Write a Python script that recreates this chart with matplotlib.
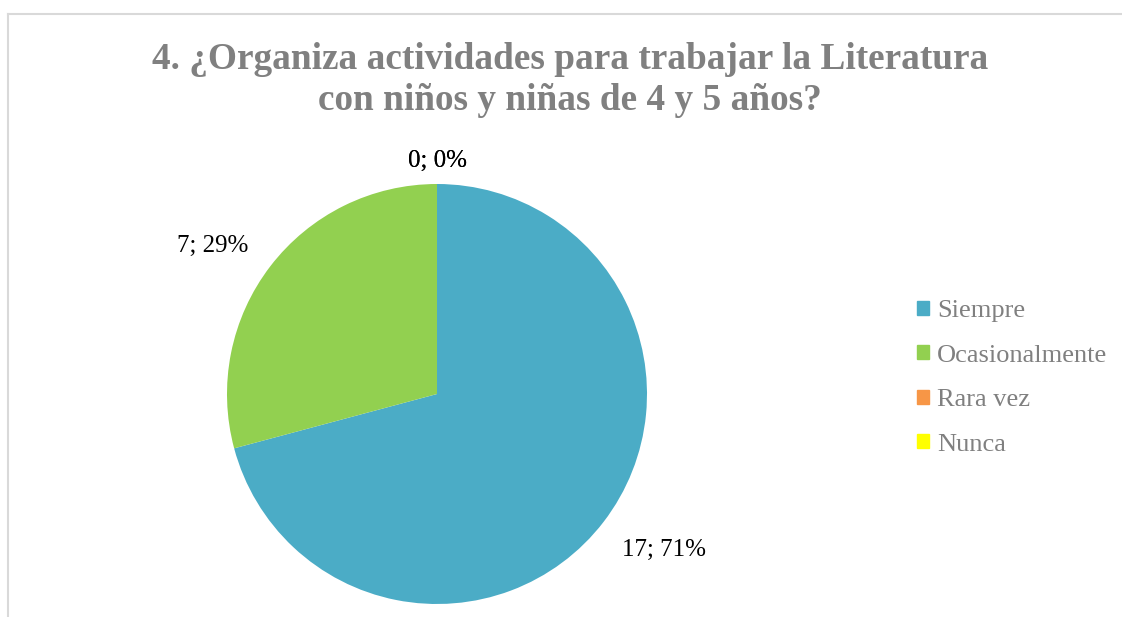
import matplotlib.pyplot as plt
import numpy as np

plt.rcParams['font.family'] = ['Liberation Serif', 'DejaVu Serif']

# Data
categories = ['Siempre', 'Ocasionalmente', 'Rara vez', 'Nunca']
counts = [17, 7, 0, 0]
colors = ['#4BACC6', '#92D050', '#F79646', '#FFFF00']
title = '4. ¿Organiza actividades para trabajar la Literatura\ncon niños y niñas de 4 y 5 años?'

W, H = 1122, 617
fig = plt.figure(figsize=(W / 100, H / 100), dpi=100)

# chart border (only top and left visible in the reference)
fig.add_artist(plt.Line2D([8 / W, 8 / W], [0, 1 - 14 / H], color='#D9D9D9', lw=1.5))
fig.add_artist(plt.Line2D([8 / W, 1], [1 - 14 / H, 1 - 14 / H], color='#D9D9D9', lw=1.5))

# pie axes: centre (437, 394), radius 210 px
cx, cy, r = 437, 394, 210
ax = fig.add_axes([(cx - r) / W, (H - cy - r) / H, 2 * r / W, 2 * r / H])
wedges, _ = ax.pie(counts, colors=colors, startangle=90, counterclock=False,
                   radius=1, wedgeprops=dict(linewidth=0))
ax.set_xlim(-1, 1)
ax.set_ylim(-1, 1)
ax.set_aspect('equal')
ax.axis('off')

# label placement roughly like Excel's best-fit
total = sum(counts)
offsets = [(1.31, 3), (1.28, 4), (1.11, 0), (1.11, 0)]
for w, c, (d, da) in zip(wedges, counts, offsets):
    ang = np.deg2rad((w.theta1 + w.theta2) / 2 + da)
    ax.text(d * np.cos(ang), d * np.sin(ang), f'{c}; {round(100 * c / total)}%',
            ha='center', va='center', fontsize=18, color='black', clip_on=False)

fig.text(570 / W, 1 - 80 / H, title, ha='center', va='center', fontsize=26.8,
         fontweight='bold', color='#808080', linespacing=1.2)

handles = [plt.Rectangle((0, 0), 1, 1, color=c) for c in colors]
leg = fig.legend(handles, categories, loc='center left', bbox_to_anchor=(904 / W, 1 - 378 / H),
                 frameon=False, fontsize=19, handlelength=0.45, handleheight=0.45,
                 handletextpad=0.3, labelspacing=0.85, borderpad=0)
for t in leg.get_texts():
    t.set_color('#808080')

fig.savefig('out.png', dpi=100)
